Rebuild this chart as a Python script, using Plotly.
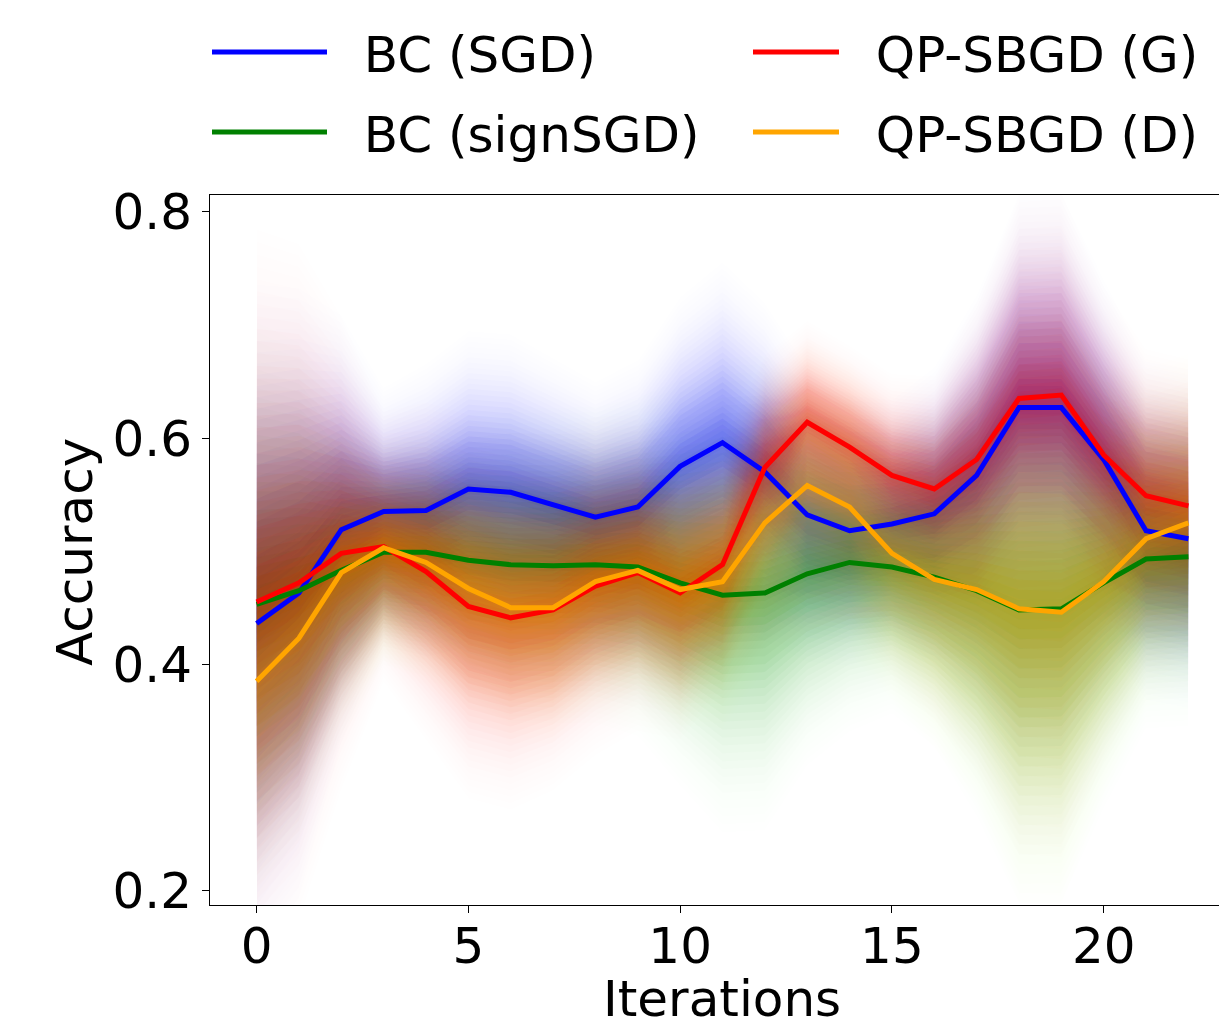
import plotly.graph_objects as go

iterations = list(range(23))

bc_sgd = [0.436, 0.463, 0.519, 0.535, 0.536, 0.555, 0.552, 0.541, 0.530, 0.539, 0.575, 0.596,
          0.570, 0.532, 0.518, 0.524, 0.533, 0.567, 0.627, 0.627, 0.581, 0.518, 0.511]
bc_signsgd = [0.453, 0.465, 0.483, 0.499, 0.499, 0.492, 0.488, 0.487, 0.488, 0.486, 0.472, 0.461,
              0.463, 0.480, 0.490, 0.486, 0.477, 0.465, 0.448, 0.449, 0.472, 0.493, 0.495]
qp_g = [0.455, 0.472, 0.498, 0.504, 0.482, 0.451, 0.441, 0.448, 0.469, 0.481, 0.463, 0.488,
        0.574, 0.614, 0.592, 0.567, 0.555, 0.581, 0.635, 0.638, 0.585, 0.549, 0.540]
qp_d = [0.385, 0.423, 0.481, 0.503, 0.490, 0.467, 0.450, 0.450, 0.473, 0.483, 0.466, 0.473,
        0.525, 0.558, 0.539, 0.498, 0.475, 0.466, 0.449, 0.446, 0.473, 0.511, 0.525]

# band half-widths (spread) read from the shaded regions
sd_bc_sgd = [0.30, 0.27, 0.19, 0.11, 0.13, 0.14, 0.14, 0.13, 0.12, 0.13, 0.15, 0.16,
             0.15, 0.13, 0.12, 0.11, 0.13, 0.16, 0.19, 0.19, 0.16, 0.15, 0.15]
sd_bc_signsgd = [0.25, 0.22, 0.15, 0.10, 0.11, 0.13, 0.14, 0.14, 0.14, 0.15, 0.18, 0.21,
                 0.21, 0.17, 0.15, 0.13, 0.15, 0.20, 0.26, 0.26, 0.20, 0.15, 0.15]
sd_qp_g = [0.33, 0.30, 0.21, 0.12, 0.15, 0.17, 0.17, 0.16, 0.15, 0.14, 0.13, 0.11,
           0.10, 0.09, 0.09, 0.09, 0.10, 0.14, 0.18, 0.18, 0.15, 0.13, 0.13]
sd_qp_d = [0.20, 0.18, 0.13, 0.10, 0.11, 0.12, 0.12, 0.12, 0.11, 0.11, 0.12, 0.13,
           0.13, 0.13, 0.13, 0.13, 0.15, 0.19, 0.26, 0.26, 0.19, 0.15, 0.15]

names = ["BC (SGD)", "BC (signSGD)", "QP-SBGD (G)", "QP-SBGD (D)"]
means = [bc_sgd, bc_signsgd, qp_g, qp_d]
spreads = [sd_bc_sgd, sd_bc_signsgd, sd_qp_g, sd_qp_d]
colors = ["0,0,255", "0,128,0", "255,0,0", "255,165,0"]
legend_ids = ["legend", "legend", "legend2", "legend2"]

N_LAYERS = 30

fig = go.Figure()

for m, s, c in zip(means, spreads, colors):
    for i in range(1, N_LAYERS + 1):
        f = i / N_LAYERS
        a = 0.003 + 0.05 * (1 - f) ** 1.5
        upper = [mv + sv * f for mv, sv in zip(m, s)]
        lower = [mv - sv * f for mv, sv in zip(m, s)]
        fig.add_trace(go.Scatter(
            x=iterations + iterations[::-1],
            y=upper + lower[::-1],
            fill="toself",
            fillcolor=f"rgba({c},{a:.4f})",
            line=dict(width=0),
            mode="lines",
            hoverinfo="skip",
            showlegend=False,
        ))

for n, m, c, lg in zip(names, means, colors, legend_ids):
    fig.add_trace(go.Scatter(
        x=iterations, y=m, mode="lines", name="\u00a0\u00a0" + n,
        line=dict(color=f"rgb({c})", width=5),
        legend=lg, legendgroup=n,
    ))

font_family = "DejaVu Sans"
legend_common = dict(
    orientation="v",
    xref="container", yref="container",
    yanchor="top", xanchor="left",
    font=dict(size=50, family=font_family),
    bgcolor="rgba(0,0,0,0)",
    tracegroupgap=12,
)
fig.update_layout(
    width=1227, height=1036,
    margin=dict(l=202, r=0, t=187, b=139, autoexpand=False),
    paper_bgcolor="white", plot_bgcolor="white",
    font=dict(family=font_family, size=50, color="black"),
    legend=dict(x=199 / 1227, y=1 - 5 / 1036, itemwidth=115, **legend_common),
    legend2=dict(x=740 / 1227, y=1 - 5 / 1036, itemwidth=86, **legend_common),
    showlegend=True,
)

fig.add_annotation(
    text="Iterations", xref="paper", yref="paper",
    x=(722 - 8 - 202) / 1025, y=-(960 - 897) / 710, xanchor="center", yanchor="top",
    showarrow=False, font=dict(size=50, family=font_family, color="black"),
)
fig.add_annotation(
    text="Accuracy", xref="paper", yref="paper", textangle=-90,
    x=(67 - 202) / 1025, y=(897 - 544) / 710, xanchor="center", yanchor="middle",
    showarrow=False, font=dict(size=50, family=font_family, color="black"),
)

fig.update_xaxes(
    range=[-1.1, 23.1],
    tickvals=[0, 5, 10, 15, 20],
    ticks="outside", ticklen=7, tickwidth=1, tickcolor="black",
    ticklabelstandoff=-10,
    showline=True, linecolor="black", linewidth=1, mirror=True,
    showgrid=False, zeroline=False,
    tickfont=dict(size=50),
)
fig.update_yaxes(
    range=[0.187, 0.815],
    tickvals=[0.2, 0.4, 0.6, 0.8], tickformat=".1f",
    ticks="outside", ticklen=7, tickwidth=1, tickcolor="black",
    showline=True, linecolor="black", linewidth=1, mirror=False,
    showgrid=False, zeroline=False,
    tickfont=dict(size=50),
)

fig.write_html("out.html")
